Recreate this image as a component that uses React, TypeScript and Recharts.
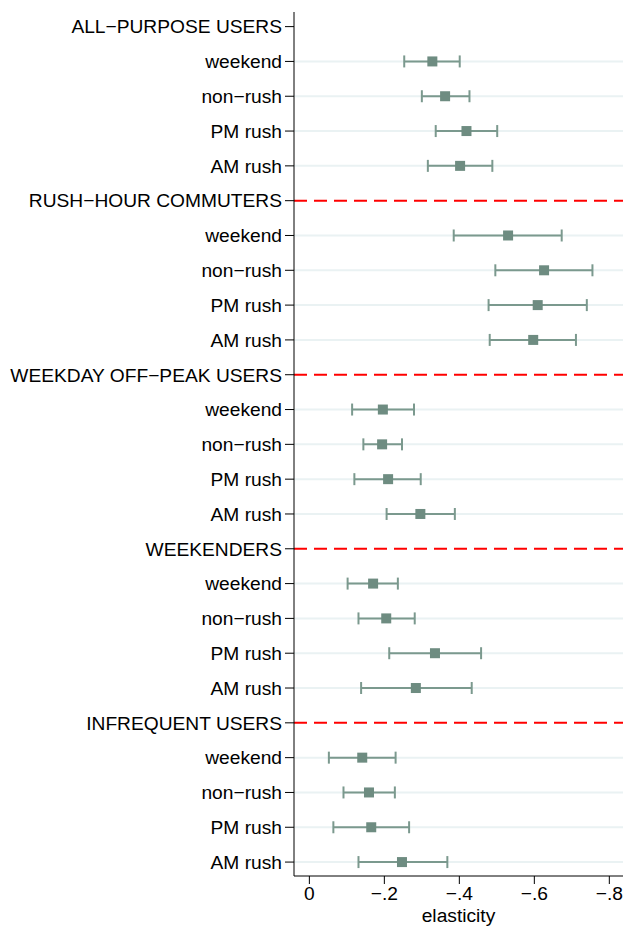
import { ScatterChart, Scatter, XAxis, YAxis, ReferenceLine, ErrorBar } from 'recharts'

const groups = ['ALL−PURPOSE USERS', 'RUSH−HOUR COMMUTERS', 'WEEKDAY OFF−PEAK USERS', 'WEEKENDERS', 'INFREQUENT USERS']
const periods = ['weekend', 'non−rush', 'PM rush', 'AM rush']

// point estimates, per group, in the order of `periods`
const estimates = [
  [-0.328, -0.362, -0.419, -0.402],
  [-0.53, -0.626, -0.609, -0.597],
  [-0.196, -0.194, -0.21, -0.296],
  [-0.17, -0.205, -0.335, -0.284],
  [-0.141, -0.159, -0.165, -0.247],
]
// confidence interval ends closest to zero
const upperCI = [
  [-0.253, -0.3, -0.337, -0.316],
  [-0.385, -0.496, -0.478, -0.481],
  [-0.114, -0.144, -0.12, -0.206],
  [-0.102, -0.131, -0.213, -0.138],
  [-0.052, -0.091, -0.064, -0.131],
]
// confidence interval ends farthest from zero
const lowerCI = [
  [-0.401, -0.427, -0.501, -0.488],
  [-0.673, -0.755, -0.74, -0.711],
  [-0.279, -0.247, -0.297, -0.388],
  [-0.236, -0.281, -0.458, -0.433],
  [-0.23, -0.228, -0.266, -0.368],
]
const xTicks = [0, -0.2, -0.4, -0.6, -0.8]

const MARKER = '#6e8c81'
const WHISKER = '#7b998e'
const GRID = '#eaf2f3'
const FONT = { fontSize: 19.2, fill: '#000', fontFamily: 'Liberation Sans, Arial, sans-serif' }

const rowLabels: string[] = []
const headerRows: number[] = []
const points: { x: number; y: number; err: number[] }[] = []
groups.forEach((g, gi) => {
  headerRows.push(rowLabels.length)
  rowLabels.push(g)
  periods.forEach((p, pi) => {
    const est = estimates[gi][pi]
    points.push({ x: est, y: rowLabels.length, err: [est - lowerCI[gi][pi], upperCI[gi][pi] - est] })
    rowLabels.push(p)
  })
})
const rowIdx = rowLabels.map((_, i) => i)

const fmtX = (v: number) => (v === 0 ? '0' : '−' + Math.abs(v).toFixed(1).replace(/^0/, ''))

const Square = (props: any) => {
  const { cx, cy } = props
  return <rect x={cx - 5} y={cy - 5} width={10} height={10} fill={MARKER} />
}

export default function App() {
  return (
    <div style={{ position: 'absolute', left: 0, top: 0 }}>
      <ScatterChart width={623} height={926} margin={{ top: 12, right: 0, bottom: 0, left: 0 }}>
        {points.map((p) => (
          <ReferenceLine key={'g' + p.y} y={p.y} stroke={GRID} strokeWidth={2} />
        ))}
        {headerRows.slice(1).map((r) => (
          <ReferenceLine key={'h' + r} y={r} stroke="#ff0000" strokeWidth={2} strokeDasharray="13 7" />
        ))}
        <XAxis
          type="number"
          dataKey="x"
          reversed
          domain={[-0.8365, 0.041]}
          allowDataOverflow
          ticks={xTicks}
          tickFormatter={fmtX}
          tick={FONT}
          tickSize={8}
          tickMargin={2}
          height={50}
          axisLine={{ stroke: '#000' }}
          tickLine={{ stroke: '#000' }}
          label={{ value: 'elasticity', position: 'insideBottom', offset: 4, ...FONT }}
        />
        <YAxis
          type="number"
          dataKey="y"
          reversed
          domain={[-0.42, 24.4]}
          allowDataOverflow
          ticks={rowIdx}
          interval={0}
          tickFormatter={(i: number) => rowLabels[i] ?? ''}
          tick={FONT}
          tickSize={9}
          tickMargin={3}
          width={294}
          axisLine={{ stroke: '#000' }}
          tickLine={{ stroke: '#000' }}
        />
        <Scatter data={points} shape={<Square />} isAnimationActive={false}>
          <ErrorBar dataKey="err" direction="x" stroke={WHISKER} strokeWidth={2} width={6} isAnimationActive={false} />
        </Scatter>
      </ScatterChart>
    </div>
  )
}
